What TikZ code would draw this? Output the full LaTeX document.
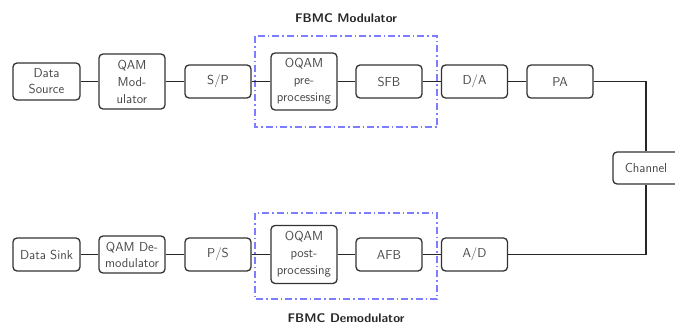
\documentclass[tikz,border=0pt]{standalone}
\definecolor{grpblue}{RGB}{125,125,255}
\begin{document}
\begin{tikzpicture}[x=1pt,y=-1pt,
  blk/.style={draw=black!80,line width=1.3pt,rounded corners=4pt,fill=white,
    minimum width=66pt,minimum height=33pt,inner sep=1pt,align=center,
    font=\sffamily\fontsize{13}{17}\selectfont,text=black!72},
  wire/.style={draw=black!85,line width=1.6pt},
  grp/.style={draw=grpblue,line width=1.15pt,dash pattern=on 7pt off 3pt on 1.5pt off 3pt},
  ttl/.style={font=\sffamily\bfseries\fontsize{12.5}{15}\selectfont,text=black!85}]
\useasboundingbox (0,0) rectangle (675,324);
\clip (0,0) rectangle (675,324);
% groups
\draw[grp] (255,36) rectangle (437,127);
\draw[grp] (255,213) rectangle (437,299);
\node[ttl] (tmod) at (346,18) {FBMC Modulator};
\node[ttl] (tdem) at (346,318) {FBMC Demodulator};
% top row
\node[blk,minimum width=67pt,minimum height=37pt] (src) at (46.5,81.5) {Data\\[-1pt]Source};
\node[blk,minimum height=55pt] (qam) at (132,81.5) {QAM\\Mod-\\ulator};
\node[blk] (sp) at (218,81.5) {S/P};
\node[blk,minimum height=57pt] (oqam) at (304,81.5) {OQAM\\pre-\\processing};
\node[blk] (sfb) at (389,81.5) {SFB};
\node[blk] (da) at (474.5,81.5) {D/A};
\node[blk] (pa) at (560,81.5) {PA};
\node[blk,minimum height=32pt] (ch) at (646,168) {Channel};
% bottom row
\node[blk,minimum width=67pt] (sink) at (46.5,254.5) {Data Sink};
\node[blk,minimum height=37pt] (qamd) at (132,254.5) {QAM De-\\[-1pt]modulator};
\node[blk] (ps) at (218,254.5) {P/S};
\node[blk,minimum height=58pt] (oqamp) at (304,254.5) {OQAM\\post-\\processing};
\node[blk] (afb) at (389,254.5) {AFB};
\node[blk] (ad) at (474.5,254.5) {A/D};
% wires
\draw[wire] (src) -- (qam);
\draw[wire] (qam) -- (sp);
\draw[wire] (sp) -- (oqam);
\draw[wire] (oqam) -- (sfb);
\draw[wire] (sfb) -- (da);
\draw[wire] (da) -- (pa);
\draw[wire] (pa.east) -| (ch.north);
\draw[wire] (sink) -- (qamd);
\draw[wire] (qamd) -- (ps);
\draw[wire] (ps) -- (oqamp);
\draw[wire] (oqamp) -- (afb);
\draw[wire] (afb) -- (ad);
\draw[wire] (ad.east) -| (ch.south);
\end{tikzpicture}
\end{document}
